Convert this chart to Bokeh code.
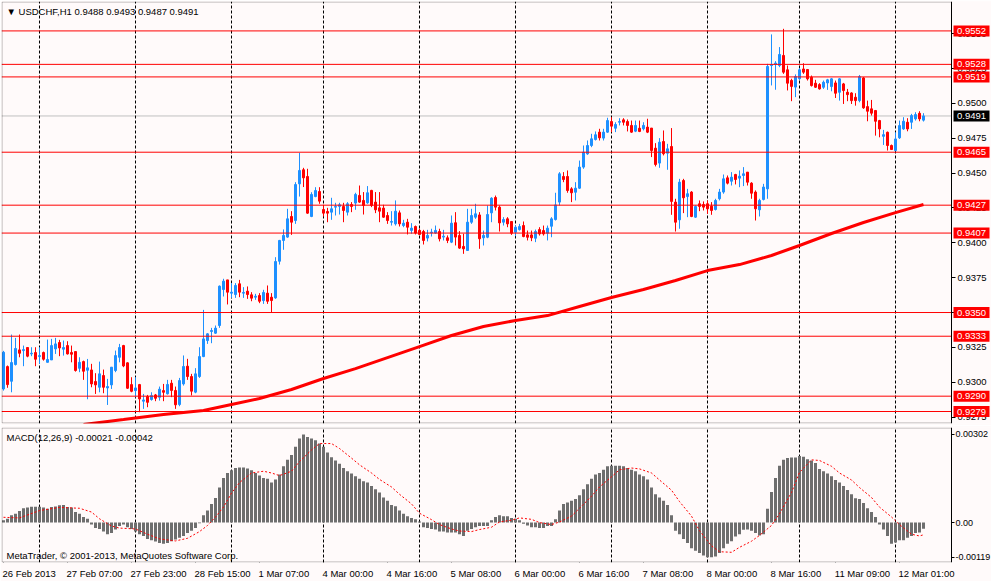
from bokeh.plotting import figure
from bokeh.models import (Range1d, FixedTicker, Label, ColumnDataSource, Grid,
                          LinearAxis, BoxAnnotation)
from bokeh.core.properties import value
from bokeh.layouts import column
from bokeh.embed import file_html
from bokeh.resources import INLINE

# ---------------- data ----------------
opens = [
    0.92952, 0.93112, 0.93007, 0.93127, 0.93232, 0.93227, 0.93249, 0.93203, 0.93213, 0.93184,
    0.93213, 0.93143, 0.93160, 0.93239, 0.93285, 0.93237, 0.93263, 0.93213, 0.93220, 0.93100,
    0.93148, 0.93086, 0.93088, 0.93005, 0.92964, 0.93048, 0.92959, 0.92981, 0.93084, 0.93179,
    0.93263, 0.93139, 0.92983, 0.92940, 0.92983, 0.92864, 0.92897, 0.92876, 0.92909, 0.92892,
    0.92940, 0.92917, 0.92993, 0.92941, 0.92840, 0.92988, 0.93115, 0.93041, 0.92929, 0.93041,
    0.93184, 0.93299, 0.93364, 0.93352, 0.93407, 0.93665, 0.93734, 0.93639, 0.93629, 0.93706,
    0.93639, 0.93653, 0.93627, 0.93610, 0.93622, 0.93586, 0.93639, 0.93610, 0.93605, 0.93868,
    0.94017, 0.94041, 0.94189, 0.94160, 0.94423, 0.94524, 0.94476, 0.94189, 0.94332, 0.94368,
    0.94239, 0.94225, 0.94220, 0.94256, 0.94261, 0.94261, 0.94220, 0.94275, 0.94285, 0.94340,
    0.94304, 0.94287, 0.94376, 0.94292, 0.94251, 0.94249, 0.94196, 0.94148, 0.94136, 0.94215,
    0.94124, 0.94148, 0.94089, 0.94117, 0.94089, 0.94081, 0.94034, 0.94072, 0.94070, 0.94081,
    0.94041, 0.94036, 0.94005, 0.94144, 0.94053, 0.93974, 0.93945, 0.94148, 0.94184, 0.94200,
    0.94036, 0.94040, 0.94215, 0.94325, 0.94256, 0.94148, 0.94172, 0.94153, 0.94076, 0.94095,
    0.94124, 0.94057, 0.94057, 0.94033, 0.94095, 0.94088, 0.94069, 0.94119, 0.94167, 0.94292,
    0.94476, 0.94476, 0.94387, 0.94363, 0.94392, 0.94543, 0.94638, 0.94698, 0.94741, 0.94794,
    0.94751, 0.94794, 0.94870, 0.94822, 0.94865, 0.94882, 0.94870, 0.94842, 0.94801, 0.94822,
    0.94818, 0.94830, 0.94823, 0.94679, 0.94572, 0.94727, 0.94643, 0.94691, 0.94292, 0.94165,
    0.94447, 0.94332, 0.94364, 0.94184, 0.94280, 0.94275, 0.94280, 0.94263, 0.94239, 0.94316,
    0.94364, 0.94466, 0.94442, 0.94490, 0.94464, 0.94483, 0.94507, 0.94428, 0.94364, 0.94237,
    0.94311, 0.94387, 0.95272, 0.95279, 0.95272, 0.95344, 0.95241, 0.95165, 0.95117, 0.95177,
    0.95247, 0.95243, 0.95188, 0.95145, 0.95135, 0.95116, 0.95147, 0.95121, 0.95147, 0.95080,
    0.95140, 0.95080, 0.95075, 0.95044, 0.95020, 0.95183, 0.94977, 0.94961, 0.94949, 0.94877,
    0.94764, 0.94793, 0.94698, 0.94662, 0.94753, 0.94817, 0.94865, 0.94865, 0.94889, 0.94929,
    0.94880,
]
highs = [
    0.93225, 0.93120, 0.93342, 0.93318, 0.93342, 0.93263, 0.93251, 0.93251, 0.93251, 0.93251,
    0.93220, 0.93306, 0.93311, 0.93318, 0.93304, 0.93299, 0.93294, 0.93263, 0.93220, 0.93179,
    0.93155, 0.93167, 0.93132, 0.93065, 0.93148, 0.93091, 0.93024, 0.93108, 0.93227, 0.93275,
    0.93268, 0.93143, 0.93036, 0.93036, 0.92988, 0.92916, 0.92909, 0.92928, 0.92916, 0.92969,
    0.92988, 0.93017, 0.93017, 0.92969, 0.93031, 0.93192, 0.93168, 0.93060, 0.93101, 0.93251,
    0.93519, 0.93352, 0.93390, 0.93407, 0.93694, 0.93742, 0.93734, 0.93711, 0.93711, 0.93734,
    0.93682, 0.93687, 0.93646, 0.93634, 0.93639, 0.93663, 0.93694, 0.93639, 0.93897, 0.94021,
    0.94096, 0.94244, 0.94227, 0.94435, 0.94645, 0.94538, 0.94531, 0.94363, 0.94399, 0.94399,
    0.94273, 0.94251, 0.94323, 0.94287, 0.94287, 0.94287, 0.94292, 0.94292, 0.94359, 0.94411,
    0.94364, 0.94407, 0.94380, 0.94364, 0.94364, 0.94273, 0.94220, 0.94227, 0.94304, 0.94232,
    0.94165, 0.94172, 0.94141, 0.94124, 0.94101, 0.94093, 0.94093, 0.94101, 0.94124, 0.94101,
    0.94093, 0.94053, 0.94196, 0.94220, 0.94084, 0.94065, 0.94244, 0.94244, 0.94280, 0.94220,
    0.94088, 0.94268, 0.94327, 0.94339, 0.94268, 0.94184, 0.94184, 0.94153, 0.94124, 0.94136,
    0.94153, 0.94088, 0.94088, 0.94095, 0.94112, 0.94124, 0.94124, 0.94184, 0.94359, 0.94507,
    0.94507, 0.94519, 0.94399, 0.94435, 0.94590, 0.94698, 0.94734, 0.94782, 0.94799, 0.94818,
    0.94818, 0.94897, 0.94901, 0.94865, 0.94894, 0.94894, 0.94885, 0.94877, 0.94877, 0.94877,
    0.94865, 0.94890, 0.94823, 0.94715, 0.94751, 0.94806, 0.94710, 0.94823, 0.94316, 0.94459,
    0.94459, 0.94387, 0.94371, 0.94268, 0.94304, 0.94297, 0.94304, 0.94292, 0.94316, 0.94387,
    0.94490, 0.94483, 0.94507, 0.94495, 0.94519, 0.94543, 0.94507, 0.94435, 0.94376, 0.94316,
    0.94423, 0.95284, 0.95495, 0.95303, 0.95404, 0.95535, 0.95272, 0.95177, 0.95208, 0.95253,
    0.95288, 0.95247, 0.95200, 0.95169, 0.95145, 0.95164, 0.95176, 0.95181, 0.95164, 0.95181,
    0.95147, 0.95104, 0.95080, 0.95073, 0.95204, 0.95188, 0.95020, 0.95025, 0.94953, 0.94882,
    0.94810, 0.94798, 0.94705, 0.94793, 0.94877, 0.94901, 0.94894, 0.94925, 0.94937, 0.94944,
    0.94930,
]
lows = [
    0.92940, 0.92960, 0.92928, 0.93120, 0.93179, 0.93115, 0.93179, 0.93187, 0.93115, 0.93132,
    0.93155, 0.93141, 0.93160, 0.93203, 0.93187, 0.93191, 0.93199, 0.93143, 0.93076, 0.93072,
    0.93017, 0.92878, 0.92964, 0.92916, 0.92928, 0.92921, 0.92837, 0.92952, 0.93072, 0.93143,
    0.93108, 0.92952, 0.92928, 0.92892, 0.92785, 0.92809, 0.92821, 0.92868, 0.92864, 0.92868,
    0.92864, 0.92912, 0.92893, 0.92809, 0.92828, 0.92976, 0.93017, 0.92905, 0.92921, 0.93031,
    0.93180, 0.93275, 0.93280, 0.93347, 0.93390, 0.93615, 0.93558, 0.93605, 0.93605, 0.93610,
    0.93605, 0.93598, 0.93581, 0.93591, 0.93567, 0.93562, 0.93562, 0.93500, 0.93598, 0.93844,
    0.93950, 0.94036, 0.94057, 0.94136, 0.94332, 0.94400, 0.94208, 0.94184, 0.94327, 0.94280,
    0.94189, 0.94148, 0.94165, 0.94196, 0.94203, 0.94148, 0.94196, 0.94220, 0.94237, 0.94287,
    0.94203, 0.94280, 0.94256, 0.94213, 0.94148, 0.94180, 0.94136, 0.94124, 0.94124, 0.94117,
    0.94112, 0.94060, 0.94065, 0.94060, 0.94057, 0.93988, 0.94010, 0.94045, 0.94065, 0.94010,
    0.94017, 0.93998, 0.93998, 0.93981, 0.93957, 0.93921, 0.93945, 0.94136, 0.94172, 0.93957,
    0.93981, 0.94033, 0.94148, 0.94232, 0.94081, 0.94124, 0.94112, 0.94057, 0.94048, 0.94088,
    0.94040, 0.94017, 0.94012, 0.94005, 0.94052, 0.94052, 0.94017, 0.94040, 0.94160, 0.94268,
    0.94435, 0.94359, 0.94292, 0.94304, 0.94387, 0.94531, 0.94631, 0.94686, 0.94734, 0.94734,
    0.94734, 0.94789, 0.94794, 0.94794, 0.94842, 0.94842, 0.94799, 0.94789, 0.94794, 0.94794,
    0.94806, 0.94787, 0.94615, 0.94548, 0.94538, 0.94627, 0.94524, 0.94201, 0.94081, 0.94101,
    0.94213, 0.94184, 0.94184, 0.94179, 0.94227, 0.94232, 0.94208, 0.94201, 0.94232, 0.94304,
    0.94352, 0.94419, 0.94411, 0.94419, 0.94399, 0.94407, 0.94411, 0.94316, 0.94160, 0.94189,
    0.94304, 0.94316, 0.95129, 0.95098, 0.95260, 0.95212, 0.95093, 0.95016, 0.95045, 0.95169,
    0.95212, 0.95164, 0.95121, 0.95111, 0.95099, 0.95104, 0.95097, 0.95087, 0.95039, 0.95020,
    0.94996, 0.95016, 0.94996, 0.94984, 0.95008, 0.94961, 0.94872, 0.94913, 0.94769, 0.94757,
    0.94702, 0.94662, 0.94667, 0.94657, 0.94745, 0.94810, 0.94800, 0.94817, 0.94877, 0.94872,
    0.94870,
]
closes = [
    0.93215, 0.92983, 0.93141, 0.93242, 0.93208, 0.93234, 0.93187, 0.93208, 0.93165, 0.93191,
    0.93165, 0.93163, 0.93263, 0.93275, 0.93246, 0.93249, 0.93203, 0.93201, 0.93084, 0.93143,
    0.93079, 0.93103, 0.92988, 0.92981, 0.93060, 0.92964, 0.92969, 0.93108, 0.93191, 0.93249,
    0.93117, 0.92957, 0.92935, 0.92959, 0.92880, 0.92873, 0.92856, 0.92904, 0.92885, 0.92950,
    0.92928, 0.92984, 0.92941, 0.92838, 0.93012, 0.93113, 0.93041, 0.92936, 0.93060, 0.93184,
    0.93311, 0.93347, 0.93371, 0.93388, 0.93689, 0.93725, 0.93646, 0.93646, 0.93694, 0.93646,
    0.93644, 0.93629, 0.93603, 0.93617, 0.93581, 0.93644, 0.93581, 0.93586, 0.93866, 0.94017,
    0.94053, 0.94172, 0.94148, 0.94418, 0.94519, 0.94466, 0.94213, 0.94347, 0.94375, 0.94299,
    0.94213, 0.94213, 0.94244, 0.94261, 0.94273, 0.94232, 0.94280, 0.94261, 0.94347, 0.94292,
    0.94268, 0.94359, 0.94268, 0.94237, 0.94227, 0.94184, 0.94160, 0.94153, 0.94227, 0.94136,
    0.94141, 0.94112, 0.94105, 0.94070, 0.94060, 0.94017, 0.94053, 0.94077, 0.94089, 0.94029,
    0.94048, 0.94017, 0.94141, 0.94041, 0.93962, 0.93957, 0.94148, 0.94196, 0.94208, 0.94029,
    0.94053, 0.94203, 0.94320, 0.94256, 0.94143, 0.94167, 0.94136, 0.94069, 0.94112, 0.94117,
    0.94045, 0.94040, 0.94036, 0.94081, 0.94064, 0.94064, 0.94105, 0.94172, 0.94272, 0.94495,
    0.94454, 0.94375, 0.94359, 0.94392, 0.94543, 0.94650, 0.94698, 0.94746, 0.94775, 0.94753,
    0.94794, 0.94877, 0.94837, 0.94849, 0.94870, 0.94865, 0.94842, 0.94794, 0.94842, 0.94799,
    0.94842, 0.94794, 0.94662, 0.94562, 0.94722, 0.94639, 0.94674, 0.94297, 0.94148, 0.94435,
    0.94323, 0.94352, 0.94189, 0.94261, 0.94261, 0.94256, 0.94244, 0.94232, 0.94304, 0.94364,
    0.94459, 0.94428, 0.94471, 0.94454, 0.94478, 0.94495, 0.94435, 0.94356, 0.94244, 0.94304,
    0.94400, 0.95265, 0.95277, 0.95289, 0.95351, 0.95224, 0.95145, 0.95122, 0.95193, 0.95241,
    0.95224, 0.95176, 0.95128, 0.95116, 0.95104, 0.95152, 0.95169, 0.95176, 0.95073, 0.95176,
    0.95092, 0.95063, 0.95020, 0.95020, 0.95192, 0.94968, 0.94944, 0.94930, 0.94872, 0.94817,
    0.94776, 0.94698, 0.94669, 0.94745, 0.94841, 0.94872, 0.94817, 0.94913, 0.94920, 0.94889,
    0.94910,
]

# moving average (sampled bars)
ma_idx = [20, 30, 40, 50, 57, 64, 72, 80, 88, 96, 104, 112, 120, 128, 136, 144, 152, 160,
          168, 176, 184, 192, 199, 207, 215, 223, 230]
ma_val = [0.92697, 0.92732, 0.92768, 0.92797, 0.92840, 0.92883, 0.92948, 0.93027, 0.93098,
          0.93177, 0.93256, 0.93335, 0.93400, 0.93443, 0.93478, 0.93543, 0.93608, 0.93665,
          0.93730, 0.93801, 0.93844, 0.93909, 0.93981, 0.94067, 0.94146, 0.94217, 0.94275]

# MACD histogram
macd = [
    0.00008, 0.00013, 0.00025, 0.00030, 0.00040, 0.00049, 0.00052, 0.00054, 0.00054, 0.00054,
    0.00052, 0.00047, 0.00053, 0.00055, 0.00059, 0.00060, 0.00053, 0.00052, 0.00036, 0.00030,
    0.00019, 0.00013, -0.00007, -0.00019, -0.00022, -0.00031, -0.00040, -0.00036, -0.00024, -0.00012,
    -0.00007, -0.00016, -0.00022, -0.00031, -0.00040, -0.00046, -0.00056, -0.00061, -0.00065, -0.00070,
    -0.00073, -0.00070, -0.00064, -0.00058, -0.00052, -0.00046, -0.00036, -0.00028, -0.00019, -0.00002,
    0.00025, 0.00041, 0.00064, 0.00084, 0.00120, 0.00153, 0.00170, 0.00179, 0.00187, 0.00189,
    0.00189, 0.00185, 0.00179, 0.00170, 0.00161, 0.00153, 0.00150, 0.00137, 0.00148, 0.00165,
    0.00193, 0.00215, 0.00232, 0.00260, 0.00288, 0.00302, 0.00293, 0.00288, 0.00282, 0.00271,
    0.00260, 0.00240, 0.00224, 0.00213, 0.00202, 0.00187, 0.00176, 0.00168, 0.00159, 0.00150,
    0.00142, 0.00137, 0.00125, 0.00114, 0.00103, 0.00086, 0.00075, 0.00060, 0.00056, 0.00041,
    0.00030, 0.00022, 0.00016, 0.00011, 0.00004, -0.00016, -0.00019, -0.00022, -0.00024, -0.00031,
    -0.00031, -0.00034, -0.00034, -0.00034, -0.00040, -0.00046, -0.00028, -0.00022, -0.00016, -0.00012,
    -0.00012, -0.00012, 0.00008, 0.00019, 0.00025, 0.00022, 0.00022, 0.00016, 0.00013, 0.00008,
    -0.00004, -0.00010, -0.00016, -0.00016, -0.00019, -0.00019, -0.00012, -0.00012, 0.00011, 0.00041,
    0.00064, 0.00069, 0.00075, 0.00081, 0.00094, 0.00114, 0.00131, 0.00150, 0.00165, 0.00170,
    0.00181, 0.00193, 0.00195, 0.00195, 0.00195, 0.00193, 0.00187, 0.00181, 0.00176, 0.00165,
    0.00159, 0.00148, 0.00120, 0.00097, 0.00086, 0.00075, 0.00060, 0.00025, -0.00028, -0.00040,
    -0.00056, -0.00070, -0.00088, -0.00097, -0.00104, -0.00113, -0.00119, -0.00119, -0.00116, -0.00104,
    -0.00088, -0.00073, -0.00064, -0.00048, -0.00040, -0.00025, -0.00024, -0.00028, -0.00036, -0.00044,
    -0.00040, 0.00047, 0.00105, 0.00153, 0.00195, 0.00215, 0.00221, 0.00223, 0.00223, 0.00228,
    0.00226, 0.00217, 0.00213, 0.00204, 0.00184, 0.00176, 0.00168, 0.00159, 0.00146, 0.00137,
    0.00125, 0.00112, 0.00097, 0.00083, 0.00081, 0.00067, 0.00049, 0.00036, 0.00019, -0.00007,
    -0.00024, -0.00046, -0.00073, -0.00068, -0.00061, -0.00061, -0.00052, -0.00046, -0.00036, -0.00034,
    -0.00021,
]

# MACD signal line (sampled bars)
sig_idx = [0, 4, 9, 14, 19, 22, 24, 27, 29, 33, 36, 39, 43, 46, 49, 51, 53, 55, 57, 59,
           62, 65, 67, 69, 72, 74, 77, 79, 82, 84, 87, 89, 92, 94, 97, 99, 102, 104, 107, 109,
           112, 114, 117, 119, 122, 124, 127, 129, 132, 134, 137, 139, 142, 144, 147, 149, 152, 154, 157, 159,
           162, 164, 167, 169, 172, 174, 177, 179, 182, 184, 187, 189, 192, 194, 197, 199, 202, 204, 207, 209,
           212, 214, 217, 219, 222, 224, 227, 229, 230]
sig_val = [0.00018, 0.00016, 0.00041, 0.00052, 0.00049, 0.00036, 0.00013, -0.00012, -0.00019, -0.00022,
           -0.00040, -0.00056, -0.00063, -0.00054, -0.00031, -0.00010, 0.00019, 0.00053, 0.00101, 0.00137,
           0.00170, 0.00176, 0.00170, 0.00161, 0.00176, 0.00209, 0.00249, 0.00271, 0.00271, 0.00254,
           0.00221, 0.00198, 0.00170, 0.00148, 0.00122, 0.00097, 0.00064, 0.00032, 0.00010, -0.00007,
           -0.00022, -0.00029, -0.00031, -0.00024, -0.00016, 0.00002, 0.00008, 0.00016, 0.00011, 0.00000,
           -0.00007, 0.00002, 0.00022, 0.00049, 0.00090, 0.00122, 0.00157, 0.00181, 0.00187, 0.00184,
           0.00170, 0.00146, 0.00111, 0.00072, 0.00022, -0.00028, -0.00080, -0.00100, -0.00102, -0.00085,
           -0.00064, -0.00044, -0.00010, 0.00030, 0.00103, 0.00172, 0.00215, 0.00213, 0.00193, 0.00170,
           0.00146, 0.00120, 0.00086, 0.00053, 0.00019, -0.00007, -0.00040, -0.00046, -0.00042]

level_prices = [0.9552, 0.9528, 0.9519, 0.9465, 0.9427, 0.9407, 0.9350, 0.9333, 0.9290, 0.9279]
last_price = 0.9491

price_ticks = [0.9275, 0.9300, 0.9325, 0.9350, 0.9375, 0.9400, 0.9425, 0.9450, 0.9475, 0.9500, 0.9525, 0.9550]
price_tick_text = ["0.9275", "0.9300", "0.9325", "0.9350", "0.9375", "0.9400", "0.9425", "0.9450",
                   "0.9475", "0.9500", "0.9525", "0.9550"]
macd_ticks = [-0.00119, 0.0, 0.00302]
macd_tick_text = ["-0.00119", "0.00", "0.00302"]

day_idx = [9, 33, 57, 80, 104, 128, 152, 176, 199, 223]
xlab_idx = [0, 16, 32, 48, 64, 80, 96, 112, 128, 144, 160, 176, 192, 208, 224]
xlab_txt = ["26 Feb 2013", "27 Feb 07:00", "27 Feb 23:00", "28 Feb 15:00", "1 Mar 07:00",
            "4 Mar 00:00", "4 Mar 16:00", "5 Mar 08:00", "6 Mar 00:00", "6 Mar 16:00",
            "7 Mar 08:00", "8 Mar 00:00", "8 Mar 16:00", "11 Mar 09:00", "12 Mar 01:00"]

title_txt = "\u25bc USDCHF,H1  0.9488 0.9493 0.9487 0.9491"
macd_txt = "MACD(12,26,9) -0.00021 -0.00042"
copy_txt = "MetaTrader, \u00a9 2001-2013, MetaQuotes Software Corp."

# ---------------- style / layout ----------------
FONT = "Liberation Sans"
FSV = 9.5
FS = "%gpx" % FSV
BG = "#FFFAFA"
UP = "#1E90FF"
DN = "#FF0000"
PXU = 4.0                # pixels per bar
FW = 990                 # frame covers plot area + price-scale area
X0 = -0.5                # left edge of the plot area (bar units)
AXX = X0 + 950 / PXU     # bar position of the price scale line
X1 = X0 + FW / PXU
MAIN_H = 422
MACD_H = 135
MAIN_Y = (0.92704, 0.95731)
MACD_Y = (-0.00137, 0.00326)

n = min(len(opens), len(highs), len(lows), len(closes))
idx = list(range(n))
cols = [UP if closes[i] >= opens[i] else DN for i in idx]
src = ColumnDataSource(dict(
    x=idx, h=highs[:n], l=lows[:n],
    top=[max(opens[i], closes[i]) for i in idx],
    bot=[min(opens[i], closes[i]) for i in idx],
    col=cols))

xr = Range1d(X0, X1)


def make_fig(h, yr, top_border, bottom_border):
    f = figure(frame_width=FW, frame_height=h, x_range=xr, y_range=Range1d(*yr),
               y_axis_location=None, x_axis_location=None, output_backend="svg",
               toolbar_location=None, min_border_left=1, min_border_right=0,
               min_border_top=top_border, min_border_bottom=bottom_border,
               background_fill_color=BG, border_fill_color=BG, outline_line_color=None)
    f.grid.visible = False
    f.add_layout(Grid(dimension=0, ticker=FixedTicker(ticks=day_idx), grid_line_color="black",
                      grid_line_dash="3 2", grid_line_width=1))
    py = 0.5 * (yr[1] - yr[0]) / h
    f.add_layout(BoxAnnotation(left=X0 + 0.5 / PXU, right=AXX, bottom=yr[0] + py, top=yr[1] - py,
                               fill_color=None, line_color="black", line_width=1))
    return f


def price_axis(ticks, texts, fs, tick_out, standoff):
    ax = LinearAxis(fixed_location=AXX, ticker=FixedTicker(ticks=ticks),
                    major_label_overrides={t: s for t, s in zip(ticks, texts)})
    ax.major_tick_in = 0
    ax.major_tick_out = tick_out
    ax.minor_tick_line_color = None
    ax.axis_line_color = "black"
    ax.major_tick_line_color = "black"
    ax.major_label_text_font = FONT
    ax.major_label_text_font_size = fs
    ax.major_label_text_color = "black"
    ax.major_label_standoff = standoff
    return ax


# ---------------- main price panel ----------------
p = make_fig(MAIN_H, MAIN_Y, 1, 2)
p.add_layout(price_axis(price_ticks, price_tick_text, FS, 4, 2), "right")

p.segment(x0=[X0], x1=[AXX], y0=[last_price], y1=[last_price], line_color="#C0C0C0",
          line_width=1, level="underlay")

p.segment(x0="x", y0="l", x1="x", y1="h", line_color="col", line_width=1, source=src)
p.vbar(x="x", width=0.5, top="top", bottom="bot", fill_color="col", line_color="col",
       line_width=1, source=src)

p.line(ma_idx, ma_val, line_color="#FF0000", line_width=3)

p.segment(x0=[X0] * len(level_prices), x1=[AXX] * len(level_prices), y0=level_prices,
          y1=level_prices, line_color="#FF0000", line_width=1)

# price tags on the price scale
tag_prices = level_prices + [last_price]
tag_cols = ["#FF0000"] * len(level_prices) + ["#000000"]
tag_src = ColumnDataSource(dict(y=tag_prices, c=tag_cols, t=["%.4f" % v for v in tag_prices],
                                xc=[AXX + 20.0 / PXU] * len(tag_prices)))
p.rect(x="xc", y="y", width=36, height=11, width_units="screen", height_units="screen",
       fill_color="c", line_color=None, source=tag_src, level="overlay")
p.text(x="xc", y="y", text="t", text_font=value(FONT), text_font_size=FS, text_color="white",
       text_align="center", text_baseline="middle", source=tag_src, level="overlay")

p.add_layout(Label(x=X0 + 5 / PXU, y=MAIN_Y[1] - 4 * (MAIN_Y[1] - MAIN_Y[0]) / MAIN_H,
                   text=title_txt, text_font=FONT, text_font_size=FS,
                   text_color="black", text_baseline="top", text_align="left"))

# ---------------- MACD panel ----------------
p2 = make_fig(MACD_H, MACD_Y, 2, 1)
p2.add_layout(price_axis(macd_ticks, macd_tick_text, "9px", 3, 1), "right")

p2.vbar(x=idx[:len(macd)], top=macd[:n], bottom=0, width=0.75, fill_color="#6E6E6E",
        line_color=None)
p2.line(sig_idx, sig_val, line_color="#FF0000", line_dash="2 2", line_width=1)

# time scale: tick marks at the bars, labels starting at the tick (MetaTrader style)
CW = {" ": 0.278, ":": 0.278, "F": 0.611, "M": 0.833, "e": 0.556, "b": 0.556, "a": 0.556, "r": 0.333}


def text_w(s):
    return FSV * sum(CW.get(ch, 0.556) for ch in s)


lab_pos = [i + (text_w(s) / 2.0 - 1.0) / PXU for i, s in zip(xlab_idx, xlab_txt)]

tick_ax = LinearAxis(fixed_location=MACD_Y[0], ticker=FixedTicker(ticks=xlab_idx),
                     major_label_overrides={i: "" for i in xlab_idx})
tick_ax.major_tick_in = 0
tick_ax.major_tick_out = 4
tick_ax.minor_tick_line_color = None
tick_ax.axis_line_color = None
tick_ax.major_tick_line_color = "black"
p2.add_layout(tick_ax, "below")

lab_ax = LinearAxis(ticker=FixedTicker(ticks=lab_pos),
                    major_label_overrides={v: s for v, s in zip(lab_pos, xlab_txt)})
lab_ax.major_tick_in = 0
lab_ax.major_tick_out = 4
lab_ax.major_tick_line_color = None
lab_ax.minor_tick_line_color = None
lab_ax.axis_line_color = None
lab_ax.major_label_text_font = FONT
lab_ax.major_label_text_font_size = FS
lab_ax.major_label_text_color = "black"
lab_ax.major_label_standoff = 1
p2.add_layout(lab_ax, "below")

p2.add_layout(Label(x=X0 + 5 / PXU, y=MACD_Y[1] - 4 * (MACD_Y[1] - MACD_Y[0]) / MACD_H,
                    text=macd_txt, text_font=FONT, text_font_size=FS,
                    text_color="black", text_baseline="top", text_align="left"))
p2.add_layout(Label(x=X0 + 5 / PXU, y=MACD_Y[0] + 2 * (MACD_Y[1] - MACD_Y[0]) / MACD_H,
                    text=copy_txt, text_font=FONT, text_font_size=FS,
                    text_color="black", text_baseline="bottom", text_align="left"))

layout = column(p, p2, spacing=0)
open("out.html", "w").write(file_html(layout, INLINE, title="USDCHF,H1"))
